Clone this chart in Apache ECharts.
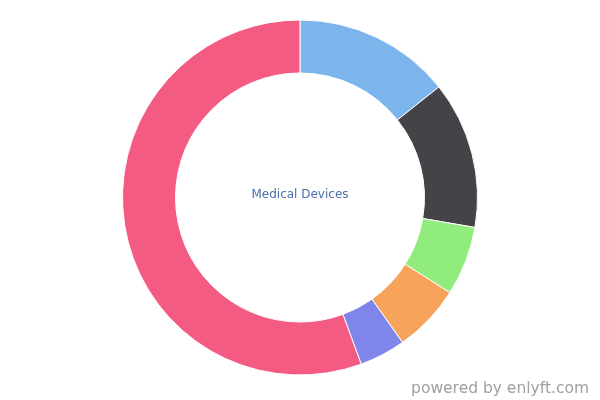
<!DOCTYPE html>
<html><head><meta charset="utf-8">
<script src="https://cdn.jsdelivr.net/npm/echarts@6/dist/echarts.min.js"></script>
<style>html,body{margin:0;padding:0;background:#fff}#c{width:600px;height:400px}</style>
</head><body><div id="c"></div>
<script>
const categories = ['A', 'B', 'C', 'D', 'E', 'F'];
const values = [14.3, 13.4, 6.3, 6.2, 4.2, 55.6];
const colors = ['#7cb5ec', '#434348', '#90ed7d', '#f7a35c', '#8085e9', '#f45b83'];
const centerLabel = 'Medical Devices';
const watermark = 'powered by enlyft.com';

const chart = echarts.init(document.getElementById('c'), null, {renderer: 'canvas'});
chart.setOption({
  animation: false,
  graphic: [
    {type: 'text', left: 'center', top: 188.5, style: {text: centerLabel, fill: '#4a70a8', font: '12px "DejaVu Sans", sans-serif'}},
    {type: 'text', right: 11, top: 381, style: {text: watermark, fill: '#a0a0a0', font: '15.5px "DejaVu Sans", sans-serif'}}
  ],
  series: [{
    type: 'pie',
    center: [300, 197.5],
    radius: [124.5, 177.5],
    startAngle: 90,
    clockwise: true,
    label: {show: false},
    labelLine: {show: false},
    emphasis: {disabled: true},
    itemStyle: {borderColor: '#fff', borderWidth: 1},
    data: categories.map((c, i) => ({name: c, value: values[i], itemStyle: {color: colors[i]}}))
  }]
});
</script></body></html>
